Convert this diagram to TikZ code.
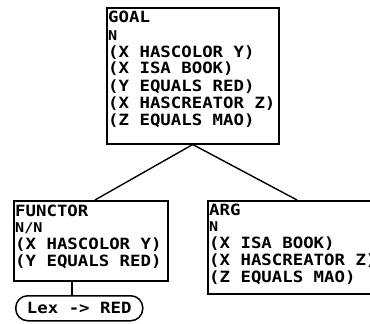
\documentclass[tikz,border=0pt]{standalone}
\usepackage{fontspec}
\newfontfamily\vecfont[FakeStretch=1.12]{DejaVu Sans Mono}
\begin{document}
\begin{tikzpicture}[x=1pt,y=-1pt,
  box/.style={draw, line width=1.5pt, anchor=north west, inner sep=0pt},
  conn/.style={draw, line width=1.4pt},
  txt/.style={anchor=base west, inner sep=0pt, font=\vecfont\bfseries\fontsize{15.5}{17}\selectfont},
  smalltxt/.style={anchor=base west, inner sep=0pt, font=\vecfont\bfseries\fontsize{13.5}{15}\selectfont},
  pill/.style={draw, line width=1.5pt, rounded corners=12pt, anchor=north west, inner sep=0pt,
    font=\vecfont\bfseries\fontsize{15.5}{17}\selectfont}]
\fill[white] (0,0) rectangle (370,324);
\useasboundingbox (0,0) rectangle (370,324);
\clip (0,0) rectangle (370,324);
% GOAL
\node[box, minimum width=172pt, minimum height=136pt] (goal) at (106,7) {};
\node[txt] (g1) at (108,23) {GOAL};
\node[smalltxt] (g2) at (108,40) {N};
\node[txt] (g3) at (108,57) {(X HASCOLOR Y)};
\node[txt] (g4) at (108,74) {(X ISA BOOK)};
\node[txt] (g5) at (108,91) {(Y EQUALS RED)};
\node[txt] (g6) at (108,108) {(X HASCREATOR Z)};
\node[txt] (g7) at (108,125) {(Z EQUALS MAO)};
% FUNCTOR
\node[box, minimum width=154pt, minimum height=80pt] (functor) at (13,200) {};
\node[txt] (f1) at (15,216) {FUNCTOR};
\node[smalltxt] (f2) at (15,232) {N/N};
\node[txt] (f3) at (15,249) {(X HASCOLOR Y)};
\node[txt] (f4) at (15,266) {(Y EQUALS RED)};
% ARG
\node[box, minimum width=180pt, minimum height=93pt] (arg) at (207,200) {};
\node[txt] (a1) at (209,215) {ARG};
\node[smalltxt] (a2) at (209,231) {N};
\node[txt] (a3) at (209,248) {(X ISA BOOK)};
\node[txt] (a4) at (209,265) {(X HASCREATOR Z)};
\node[txt] (a5) at (209,282) {(Z EQUALS MAO)};
% Lex pill
\node[pill, minimum width=127pt, minimum height=25pt] (lex) at (15,295) {Lex -> RED};
% connectors
\draw[conn] (goal.south) -- ([xshift=82pt]functor.north west);
\draw[conn] (goal.south) -- ([xshift=90pt]arg.north west);
\draw[conn] ([xshift=59pt]functor.south west) -- ([xshift=57pt]lex.north west);
\end{tikzpicture}
\end{document}
